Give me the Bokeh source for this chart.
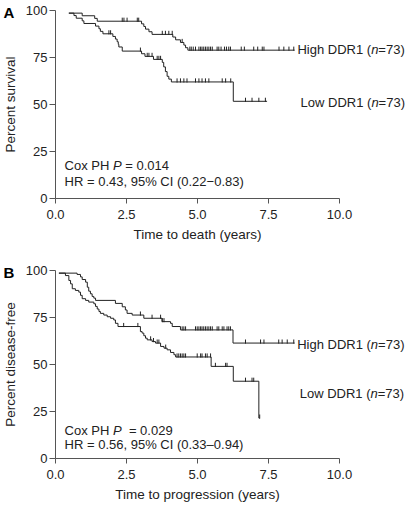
import numpy as np
from bokeh.plotting import figure
from bokeh.layouts import column
from bokeh.models import Label, FixedTicker, NumeralTickFormatter, Range1d
from bokeh.embed import file_html
from bokeh.resources import INLINE

# ---------------- data ----------------
# Panel A: overall survival
a_high_t = [0.47, 0.94, 1.38, 1.47, 3.03, 3.11, 3.17, 3.29, 3.40, 4.13, 4.23, 4.40, 4.52, 4.58, 4.66, 8.42]
a_high_s = [98.6, 97.2, 95.8, 94.3, 92.9, 91.5, 90.1, 88.7, 87.3, 85.9, 84.4, 83.0, 81.6, 80.2, 78.9, 78.9]
a_high_cens = [2.35, 2.41, 2.52, 2.88, 2.93, 3.76, 3.87, 3.99, 4.11, 4.46, 4.73, 4.78, 4.85, 4.93,
               5.05, 5.11, 5.16, 5.22, 5.28, 5.34, 5.40, 5.46, 5.52, 5.69, 5.75, 5.83, 5.95, 6.02,
               6.10, 6.16, 6.54, 6.65, 6.98, 7.12, 7.28, 7.34, 7.87, 8.04, 8.22, 8.39]

a_low_t = [0.47, 0.65, 0.73, 0.94, 1.00, 1.41, 1.53, 1.58, 1.67, 2.02, 2.11, 2.17, 2.21, 2.23, 2.35,
           3.03, 3.15, 3.45, 3.76, 3.81, 3.87, 3.93, 3.99, 4.08, 6.26, 7.45]
a_low_s = [98.6, 97.3, 95.9, 94.5, 93.1, 91.7, 90.3, 88.9, 87.6, 86.2, 84.8, 83.4, 82.0, 80.6, 78.4,
           77.0, 75.6, 74.0, 72.4, 70.0, 67.5, 65.0, 63.5, 62.0, 51.7, 51.7]
a_low_cens = [1.88, 1.94, 2.99, 3.23, 3.29, 3.40, 3.58, 3.64, 3.70, 4.28, 4.40, 4.52, 4.63, 4.93,
              5.05, 5.16, 5.28, 5.40, 5.87, 5.99, 6.17, 6.69, 6.92, 7.16, 7.39]

# Panel B: disease-free survival
b_high_t = [0.12, 0.76, 0.88, 0.94, 1.06, 1.12, 1.17, 1.23, 1.29, 1.35, 1.41, 2.11, 2.35, 2.46, 2.52,
            2.70, 3.11, 3.75, 4.05, 4.11, 4.40, 6.25, 8.42]
b_high_s = [98.6, 97.9, 96.6, 95.2, 93.8, 91.1, 89.0, 87.6, 86.2, 85.3, 84.1, 82.5, 80.7, 79.0, 77.2,
            76.3, 74.6, 72.8, 71.9, 70.2, 68.4, 61.4, 61.4]
b_high_cens = [2.99, 3.40, 3.70, 3.76, 3.82, 4.46, 4.52, 4.58, 4.93, 4.99, 5.05, 5.11, 5.16, 5.22,
               5.28, 5.34, 5.40, 5.46, 5.52, 5.69, 5.75, 5.87, 5.93, 6.04, 6.10, 6.16, 6.69, 7.22,
               7.34, 7.86, 7.98, 8.16, 8.39]

b_low_t = [0.12, 0.35, 0.47, 0.53, 0.59, 0.70, 0.82, 0.88, 0.94, 1.06, 1.17, 1.35, 1.41, 1.47, 1.53,
           1.58, 1.70, 1.82, 1.94, 2.05, 2.11, 2.20, 2.99, 3.05, 3.11, 3.17, 3.23, 3.40, 3.52, 3.70,
           3.82, 3.93, 4.05, 4.17, 4.23, 5.48, 6.26, 7.16, 7.19]
b_low_s = [98.6, 97.3, 94.7, 92.9, 90.3, 89.4, 88.5, 86.8, 85.0, 84.1, 83.2, 82.3, 80.9, 79.5, 78.2,
           77.2, 76.3, 75.4, 74.6, 73.7, 71.9, 70.2, 67.5, 66.7, 65.3, 64.0, 63.1, 62.2, 61.4, 59.6,
           58.7, 57.8, 56.4, 55.2, 54.0, 49.0, 41.1, 21.5, 21.5]
b_low_cens = [2.40, 2.90, 3.35, 3.45, 3.58, 3.64, 3.88, 4.28, 4.34, 4.40, 4.46, 4.52, 4.58, 4.99,
              5.11, 5.16, 5.28, 5.34, 5.46, 5.63, 5.99, 6.04, 6.69, 6.92, 6.98, 7.19]

x_ticks = [0, 2.5, 5, 7.5, 10]
y_ticks = [0, 25, 50, 75, 100]

# ---------------- styling helpers ----------------
FONT = "Liberation Sans"
INK = "#222222"
AXIS = "#555555"
PXU_X = 28.4      # pixels per year
PXU_Y = 1.88      # pixels per percent
LEFT = 55         # pixel position of the y axis
TOP = 10          # pixel position of 100 %
W = 406

ARIAL_W = {
    ' ': .278, '(': .333, ')': .333, '=': .584, '.': .278, ',': .278, '%': .889, '–': .556, '−': .584,
    'A': .667, 'B': .667, 'C': .722, 'D': .722, 'H': .722, 'I': .278, 'L': .556, 'P': .667, 'R': .722,
    'a': .556, 'e': .556, 'g': .556, 'h': .556, 'i': .222, 'n': .556, 'o': .556, 'w': .722, 'x': .5,
}


def text_w(s, size):
    return sum(ARIAL_W.get(c, .556) for c in s) * size


def rich(p, x, y, segs, size=13):
    off = 0.0
    for txt, ital in segs:
        stripped = txt.lstrip(' ')
        off += text_w(txt[:len(txt) - len(stripped)], size)
        p.add_layout(Label(x=x, y=y, x_offset=off, text=stripped.rstrip(' '),
                           text_font=FONT, text_font_size=f"{size}px",
                           text_font_style="italic" if ital else "normal",
                           text_baseline="middle", text_align="left", text_color=INK))
        off += text_w(stripped, size)


def km(p, t, s, cens):
    p.step(x=t, y=s, mode="after", line_color=INK, line_width=1)
    ta = np.asarray(t)
    sa = np.asarray(s)
    c = np.asarray(cens)
    lv = sa[np.clip(np.searchsorted(ta, c, side="right") - 1, 0, len(sa) - 1)]
    p.segment(x0=c, y0=lv - 0.3, x1=c, y1=lv + 1.9, line_color=INK, line_width=1)


def panel(height, ylabel, xlabel, letter, letter_y):
    y_end = 100 + TOP / PXU_Y
    p = figure(width=W, height=height, output_backend="svg", toolbar_location=None,
               x_range=Range1d(-LEFT / PXU_X, (W - LEFT) / PXU_X),
               y_range=Range1d(y_end - height / PXU_Y, y_end),
               min_border=0)
    p.outline_line_color = None
    p.grid.visible = False
    p.background_fill_color = "white"
    p.border_fill_color = "white"
    for ax in (p.xaxis[0], p.yaxis[0]):
        ax.axis_line_color = AXIS
        ax.major_tick_line_color = AXIS
        ax.minor_tick_line_color = None
        ax.major_tick_in = 0
        ax.major_label_text_font = FONT
        ax.major_label_text_font_size = "13px"
        ax.major_label_text_color = INK
        ax.axis_label_text_font = FONT
        ax.axis_label_text_font_size = "13.5px"
        ax.axis_label_text_font_style = "normal"
        ax.axis_label_text_color = INK
    p.xaxis.bounds = (0, 10)
    p.yaxis.bounds = (0, 100)
    p.xaxis.fixed_location = 0
    p.yaxis.fixed_location = 0
    p.xaxis.ticker = FixedTicker(ticks=x_ticks)
    p.yaxis.ticker = FixedTicker(ticks=y_ticks)
    p.xaxis.formatter = NumeralTickFormatter(format="0.0")
    p.xaxis.major_tick_out = 5
    p.xaxis.major_label_standoff = 6
    p.xaxis.axis_label_standoff = 5
    p.yaxis.major_tick_out = 6
    p.yaxis.major_label_standoff = 2
    p.yaxis.axis_label_standoff = 5
    p.xaxis.axis_label = xlabel
    p.yaxis.axis_label = ylabel
    p.add_layout(Label(x=-52 / PXU_X, y=letter_y, text=letter, text_font=FONT,
                       text_font_size="15px", text_font_style="bold",
                       text_baseline="middle", text_color="black"))
    return p


pa = panel(260, "Percent survival", "Time to death (years)", "A", 99.0)
km(pa, a_high_t, a_high_s, a_high_cens)
km(pa, a_low_t, a_low_s, a_low_cens)
rich(pa, 8.52, 79.1, [("High DDR1 (", False), ("n", True), ("=73)", False)])
rich(pa, 8.63, 51.3, [("Low DDR1 (", False), ("n", True), ("=73)", False)])
rich(pa, 0.32, 17.7, [("Cox PH ", False), ("P", True), (" = 0.014", False)])
rich(pa, 0.32, 9.3, [("HR = 0.43, 95% CI (0.22−0.83)", False)])

pb = panel(244, "Percent disease-free", "Time to progression (years)", "B", 98.7)
km(pb, b_high_t, b_high_s, b_high_cens)
km(pb, b_low_t, b_low_s, b_low_cens)
rich(pb, 8.51, 60.9, [("High DDR1 (", False), ("n", True), ("=73)", False)])
rich(pb, 8.60, 34.6, [("Low DDR1 (", False), ("n", True), ("=73)", False)])
rich(pb, 0.32, 14.8, [("Cox PH ", False), ("P", True), ("  = 0.029", False)])
rich(pb, 0.32, 7.7, [("HR = 0.56, 95% CI (0.33–0.94)", False)])

layout = column(pa, pb)
open("out.html", "w").write(file_html(layout, INLINE))
